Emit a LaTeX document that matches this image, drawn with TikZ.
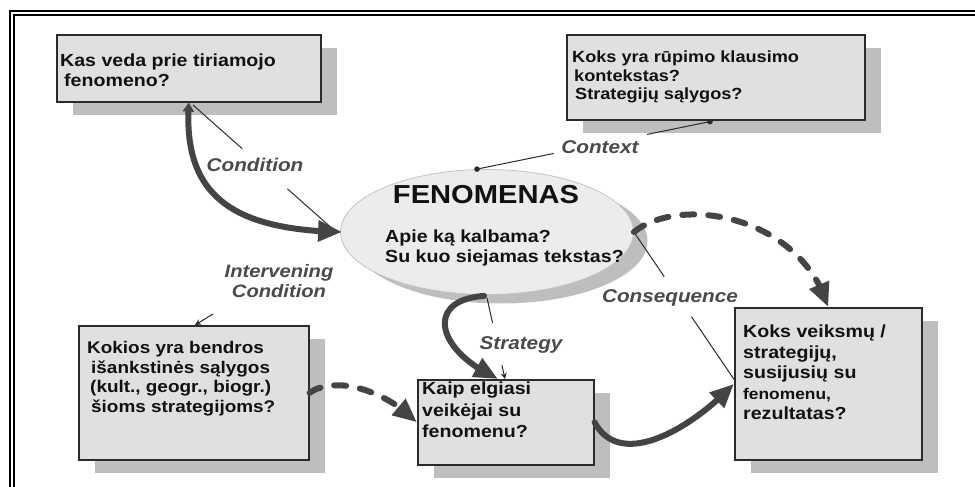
\documentclass[tikz,border=0pt]{standalone}
\usepackage{fontspec}
\setmainfont{Liberation Sans}[FakeStretch=1.12]
\usetikzlibrary{arrows.meta,bending,shapes.geometric,shadows,calc}
\definecolor{boxfill}{HTML}{DEE1DD}
\definecolor{shadowgrey}{HTML}{BEBEBE}
\definecolor{boxline}{HTML}{2A2A2A}
\definecolor{ovalfill}{HTML}{ECECEC}
\definecolor{ovalline}{HTML}{C4C4C4}
\definecolor{arrowgrey}{HTML}{444444}
\definecolor{labelgrey}{HTML}{4A4A4A}
\definecolor{textblack}{HTML}{111111}
\newcommand\myfs[2]{\fontsize{#1}{#2}\selectfont}
\tikzset{
  box/.style={draw=boxline, line width=1.6pt, fill=boxfill, inner sep=0pt, anchor=north west,
    drop shadow={shadow xshift=16pt, shadow yshift=-13pt, fill=shadowgrey, opacity=1}},
  oval/.style={ellipse, draw=ovalline, line width=0.8pt, fill=ovalfill, inner sep=0pt,
    minimum width=293pt, minimum height=125pt,
    drop shadow={shadow xshift=14pt, shadow yshift=-9pt, fill=shadowgrey, opacity=1}},
  txt/.style={anchor=north west, inner sep=0pt, align=left, text=textblack},
  lbl/.style={inner sep=0pt, text=labelgrey, font=\bfseries\itshape\myfs{18.5}{20}},
  leader/.style={draw=boxline, line width=1pt},
  frameline/.style={draw=black, line width=1.4pt},
  thickln/.style={draw=arrowgrey, line width=6pt, line cap=round},
  dashln/.style={thickln, dash pattern=on 12pt off 14pt},
  bigtip/.tip={Triangle[length=24pt,width=20pt]},
  smalltip/.tip={Stealth[length=6pt,width=6pt]},
}
\begin{document}
\begin{tikzpicture}[x=1pt,y=-1pt]
\useasboundingbox (0,0) rectangle (975,487);
\fill[white] (0,0) rectangle (975,487);
\draw[frameline] (975,11) -- (10,11) -- (10,487);
\draw[frameline] (975,15) -- (14,15) -- (14,487);

% boxes
\node[box, minimum width=264pt, minimum height=67pt] (b1) at (56,34) {};
\node[box, minimum width=298pt, minimum height=85pt] (b2) at (566,34) {};
\node[box, minimum width=230pt, minimum height=134pt] (b3) at (78,325) {};
\node[box, minimum width=176pt, minimum height=85pt] (b4) at (417,379) {};
\node[box, minimum width=187pt, minimum height=152pt] (b5) at (734,307) {};
\node[oval] (el) at (487,232) {};

% texts
\node[txt, font=\bfseries\myfs{17.5}{20}] (t1) at (60,54)
  {Kas veda prie tiriamojo\\\hspace*{4pt}fenomeno?};
\node[txt, font=\bfseries\myfs{16.2}{18.5}] (t2) at (572,51)
  {Koks yra rūpimo klausimo\\\hspace*{2pt}kontekstas?\\\hspace*{3pt}Strategijų sąlygos?};
\node[txt, font=\bfseries\myfs{16.9}{19.7}] (t3) at (87,341)
  {Kokios yra bendros\\\hspace*{4pt}išankstinės sąlygos\\\hspace*{3pt}(kult., geogr., biogr.)\\\hspace*{4pt}šioms strategijoms?};
\node[txt, font=\bfseries\myfs{17.5}{21.5}] (t4) at (422,382)
  {Kaip elgiasi\\veikėjai su\\fenomenu?};
\node[txt, font=\bfseries\myfs{17.5}{20.5}] (t5) at (743,325)
  {Koks veiksmų /\\strategijų,\\susijusių su\\{\myfs{15.5}{20.5}fenomenu,}\\rezultatas?};
\node[anchor=base, inner sep=0pt, text=textblack, font=\bfseries\myfs{26}{30}] (title) at (486,203) {FENOMENAS};
\node[txt, font=\bfseries\myfs{17.5}{20}] (etext) at (385,230)
  {Apie ką kalbama?\\Su kuo siejamas tekstas?};

% leader lines
\coordinate (ca) at (193,105);
\coordinate (cb) at ($(el.west)+(-4,0)$);
\draw[leader] (ca) -- ($(ca)!0.345!(cb)$);
\draw[leader] ($(ca)!0.66!(cb)$) -- (cb);

\coordinate (xa) at ($(el.north)+(-10,0)$);
\coordinate (xb) at ($(b2.south west)+(144,1)$);
\draw[leader] (xa) -- ($(xa)!0.33!(xb)$);
\draw[leader] ($(xa)!0.73!(xb)$) -- (xb);
\fill[boxline] (xa) circle (2.8pt);
\fill[boxline] (xb) circle (2.8pt);

\coordinate (ia) at (213,314);
\draw[leader, -smalltip] (ia) -- ($(b3.north west)+(117,0)$);

\coordinate (sa) at ($(el.south)+(0,3)$);
\coordinate (sb) at ($(b4.north west)+(88,0)$);
\draw[leader] (sa) -- ($(sa)!0.31!(sb)$);
\draw[leader, -smalltip] ($(sa)!0.83!(sb)$) -- (sb);

\coordinate (qa) at (el.east);
\coordinate (qb) at ($(b5.west)+(1,-3)$);
\draw[leader] (qa) -- ($(qa)!0.30!(qb)$);
\draw[leader] ($(qa)!0.57!(qb)$) -- (qb);

% thick connectors
\draw[thickln, {Triangle[length=9pt,width=11pt]}-bigtip] (b1.south) .. controls (183,190) and (225,230) .. ($(el.west)+(2,0)$);
\draw[thickln, -bigtip] ($(el.south)+(-3,1)$) .. controls (425,300) and (435,350) .. ($(b4.north west)+(81,0)$);
\draw[dashln, -bigtip] (b3.east) .. controls (335,375) and (385,390) .. (b4.west);
\draw[thickln, -bigtip] (b4.east) .. controls (620,470) and (690,430) .. (b5.west);
\draw[dashln, -bigtip] (el.east) .. controls (680,195) and (800,215) .. (b5.north);

% labels
\node[lbl] (lcond) at (255,165) {Condition};
\node[lbl] (lctx) at (600,147) {Context};
\node[lbl, align=center, font=\bfseries\itshape\myfs{18}{19.5}] (lint) at (279,281) {Intervening\\Condition};
\node[lbl] (lstr) at (521,345) {Strategy};
\node[lbl] (lcons) at (670,298) {Consequence};
\end{tikzpicture}
\end{document}
